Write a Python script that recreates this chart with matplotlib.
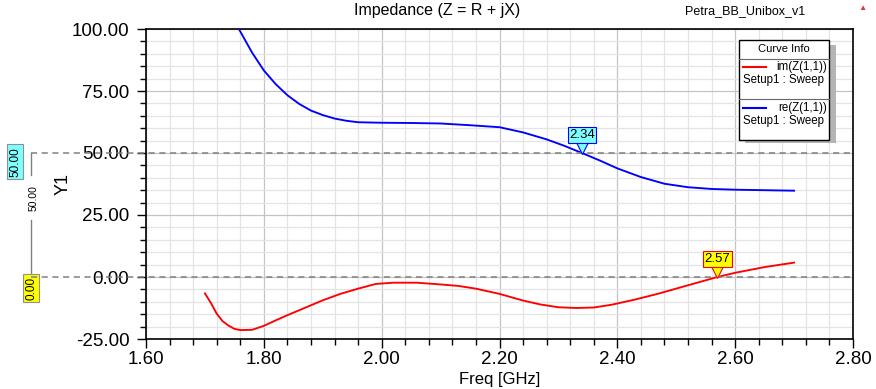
import matplotlib.pyplot as plt
from matplotlib.patches import Rectangle
from matplotlib.ticker import MultipleLocator
import matplotlib.transforms as mtransforms

plt.rcParams['font.family'] = ['Liberation Sans', 'DejaVu Sans']

# data
im_freq = [1.70, 1.71, 1.72, 1.73, 1.74, 1.75, 1.76, 1.78, 1.80, 1.82, 1.84, 1.87,
           1.90, 1.93, 1.96, 1.99, 2.02, 2.06, 2.10, 2.13, 2.16, 2.20, 2.24, 2.27,
           2.30, 2.33, 2.36, 2.39, 2.43, 2.47, 2.51, 2.54, 2.57, 2.60, 2.65, 2.70]
im_z = [-6.6, -10.4, -14.8, -17.8, -19.6, -20.9, -21.4, -21.3, -19.7, -17.5, -15.4, -12.4,
        -9.4, -6.8, -4.7, -2.8, -2.3, -2.3, -3.0, -3.6, -4.7, -6.8, -9.5, -11.1,
        -12.2, -12.5, -12.3, -11.2, -9.1, -6.7, -4.0, -2.0, 0.0, 1.7, 4.0, 5.8]
re_freq = [1.70, 1.72, 1.74, 1.76, 1.78, 1.80, 1.82, 1.84, 1.86, 1.88, 1.90, 1.92,
           1.94, 1.96, 2.00, 2.05, 2.10, 2.15, 2.20, 2.24, 2.28, 2.31, 2.34, 2.37,
           2.40, 2.44, 2.48, 2.52, 2.56, 2.60, 2.65, 2.70]
re_z = [128.0, 117.0, 107.5, 99.0, 90.5, 83.3, 77.8, 73.3, 69.8, 67.1, 65.3, 63.9,
        63.0, 62.4, 62.2, 62.1, 61.9, 61.2, 60.4, 58.3, 55.5, 52.9, 50.0, 47.0,
        43.8, 40.3, 37.6, 36.2, 35.5, 35.2, 35.0, 34.8]
marker_freq = [2.34, 2.57]
marker_val = [50.0, 0.0]
marker_colors = ['#80ffff', '#ffff00']
x_ticks = [1.60, 1.80, 2.00, 2.20, 2.40, 2.60, 2.80]
y_ticks = [-25, 0, 25, 50, 75, 100]

fig = plt.figure(figsize=(8.76, 3.89), dpi=100)
ax = fig.add_axes([146 / 876, 1 - 339 / 389, 707 / 876, 310 / 389])

ax.plot(re_freq, re_z, color='#0000ff', lw=1.35, zorder=3)
ax.plot(im_freq, im_z, color='#ff0000', lw=1.35, zorder=3)

ax.set_xlim(1.6, 2.8)
ax.set_ylim(-25, 100)
ax.set_xticks(x_ticks)
ax.set_xticklabels(['%.2f' % v for v in x_ticks])
ax.set_yticks(y_ticks)
ax.set_yticklabels(['%.2f' % v for v in y_ticks])
ax.xaxis.set_minor_locator(MultipleLocator(0.04))
ax.yaxis.set_minor_locator(MultipleLocator(5))
ax.tick_params(which='major', length=6.5, width=1, labelsize=13.5)
ax.tick_params(axis='x', which='major', pad=2)
ax.tick_params(axis='y', which='major', pad=5.5)
ax.tick_params(which='minor', length=4.3, width=1)
ax.grid(which='minor', color='#e4e4e4', lw=0.9, zorder=0)
ax.grid(which='major', color='#c4c4c4', lw=0.9, zorder=0)
ax.set_axisbelow(True)
for s in ax.spines.values():
    s.set_linewidth(1.2)

ax.set_xlabel('Freq [GHz]', fontsize=12, labelpad=3)
ax.set_ylabel('Y1', fontsize=13)
ax.yaxis.set_label_coords((72 - 146) / 707, 0.5)
fig.text(437 / 876, 1 - 11 / 389, 'Impedance (Z = R + jX)', ha='center', va='center', fontsize=11.5)
fig.text(745 / 876, 1 - 11 / 389, 'Petra_BB_Unibox_v1', ha='center', va='center', fontsize=9)
fig.text(862 / 876, 1 - 8 / 389, '\u25b2', ha='center', va='center', fontsize=6, color='#d04040')

# reference lines at the marker values, stretching out to the left margin
blend = mtransforms.blended_transform_factory(ax.transAxes, ax.transData)
x_left = (31 - 146) / 707
for v in marker_val:
    ax.plot([x_left, 1.0], [v, v], color='#808080', lw=1.1, ls=(0, (4, 3)),
            transform=blend, clip_on=False, zorder=5)
ax.plot([x_left, x_left], [0, 23], color='#808080', lw=1, transform=blend, clip_on=False)
ax.plot([x_left, x_left], [41, 50], color='#808080', lw=1, transform=blend, clip_on=False)
ax.text(x_left + 0.004, 32, '50.00', rotation=90, ha='center', va='center',
        fontsize=7.5, transform=blend)
ax.text((15 - 146) / 707, 46.5, '50.00', rotation=90, ha='center', va='center', fontsize=8.5,
        transform=blend, bbox=dict(boxstyle='square,pad=0.2', fc='#80ffff', ec='#909090', lw=0.8))
ax.text((31 - 146) / 707, -4.5, '0.00', rotation=90, ha='center', va='center', fontsize=8.5,
        transform=blend, bbox=dict(boxstyle='square,pad=0.2', fc='#ffff00', ec='#909090', lw=0.8))

# marker flags on the curves
for f, v, c, ec in zip(marker_freq, marker_val, marker_colors, ['#0000ff', '#ff0000']):
    tri = mtransforms.offset_copy(ax.transData, fig=fig, x=0, y=6, units='dots')
    ax.plot([f], [v], marker='v', ms=10, mfc=c, mec=ec, mew=0.8, transform=tri,
            zorder=6, clip_on=False)
    ax.annotate('%.2f' % f, xy=(f, v), xytext=(0, 18), textcoords='offset pixels',
                ha='center', va='center', fontsize=9.5, zorder=7,
                bbox=dict(boxstyle='square,pad=0.12', fc=c, ec=ec, lw=0.8))

# Curve Info box
def fx(px):
    return px / 876

def fy(py):
    return 1 - py / 389

fig.patches.append(Rectangle((fx(745), fy(143)), fx(91), 98 / 389, transform=fig.transFigure,
                             fc='#b4b4b4', ec='none', zorder=8))
fig.patches.append(Rectangle((fx(739), fy(140)), fx(90), 100 / 389, transform=fig.transFigure,
                             fc='white', ec='black', lw=1, zorder=9))
fig.add_artist(plt.Line2D([fx(739), fx(829)], [fy(59), fy(59)], color='#666666', lw=0.8, zorder=10))
fig.add_artist(plt.Line2D([fx(739), fx(829)], [fy(99), fy(99)], color='#666666', lw=0.8, zorder=10))
fig.text(fx(784), fy(49), 'Curve Info', ha='center', va='center', fontsize=8, zorder=10)
for y0, col, name in [(67, '#ff0000', 'im(Z(1,1))'), (108, '#0000ff', 're(Z(1,1))')]:
    fig.add_artist(plt.Line2D([fx(743), fx(766)], [fy(y0), fy(y0)], color=col, lw=1.5, zorder=10))
    fig.text(fx(827), fy(y0), name, ha='right', va='center', fontsize=8.3, zorder=10)
    fig.text(fx(743), fy(y0 + 13), 'Setup1 : Sweep', ha='left', va='center', fontsize=8.3, zorder=10)

fig.savefig('out.png', dpi=100)
